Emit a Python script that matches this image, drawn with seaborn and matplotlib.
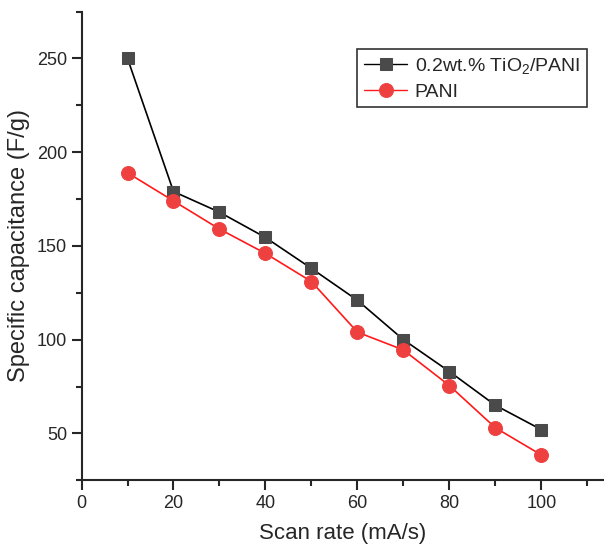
import matplotlib
matplotlib.use("Agg")
import matplotlib.pyplot as plt
import seaborn as sns
import pandas as pd
from matplotlib.ticker import MultipleLocator

scan_rate = [10, 20, 30, 40, 50, 60, 70, 80, 90, 100]
tio2_pani = [250, 179, 168, 154.5, 138, 121, 100, 83, 65, 52]
pani = [189, 174, 159, 146, 131, 104, 94.5, 75.5, 53, 38.5]
series_names = ["0.2wt.% TiO$_2$/PANI", "PANI"]

sns.set_style("ticks")
plt.rcParams['font.family'] = ['Liberation Sans', 'DejaVu Sans']
plt.rcParams['mathtext.fontset'] = 'custom'
plt.rcParams['mathtext.rm'] = 'Liberation Sans'
plt.rcParams['mathtext.it'] = 'Liberation Sans'

df = pd.DataFrame({
    "x": scan_rate * 2,
    "y": tio2_pani + pani,
    "s": [series_names[0]] * len(scan_rate) + [series_names[1]] * len(scan_rate),
})

fig = plt.figure(figsize=(6.04, 5.52), dpi=100)
ax = fig.add_axes([0.135, 0.130, 0.864, 0.849])

sns.lineplot(data=df[df.s == series_names[0]], x="x", y="y", ax=ax, color="black",
             marker="s", markersize=9, markerfacecolor="#4a4a4a", markeredgecolor="#4a4a4a",
             linewidth=1.2, label=series_names[0])
sns.lineplot(data=df[df.s == series_names[1]], x="x", y="y", ax=ax, color="#ff1a1a",
             marker="o", markersize=10, markerfacecolor="#ef4040", markeredgecolor="#ef4040",
             linewidth=1.2, label=series_names[1])

ax.set_xlim(0, 113.5)
ax.set_ylim(25, 275)
ax.xaxis.set_major_locator(MultipleLocator(20))
ax.xaxis.set_minor_locator(MultipleLocator(10))
ax.yaxis.set_major_locator(MultipleLocator(50))
ax.yaxis.set_minor_locator(MultipleLocator(25))
ax.tick_params(which="major", length=7, width=1.5, labelsize=13, direction="out")
ax.tick_params(which="minor", length=4, width=1.5, direction="out")
for side in ["top", "right"]:
    ax.spines[side].set_visible(False)
for side in ["left", "bottom"]:
    ax.spines[side].set_linewidth(1.5)

ax.set_xlabel("Scan rate (mA/s)", fontsize=16, labelpad=8)
ax.set_ylabel("Specific capacitance (F/g)", fontsize=17, labelpad=5)

leg = ax.legend(loc="upper left", bbox_to_anchor=(0.51, 0.94), fontsize=14,
                frameon=True, fancybox=False, edgecolor="black", handlelength=2.2,
                borderpad=0.35, labelspacing=0.35, handletextpad=0.4)
leg.get_frame().set_linewidth(1.2)
for line in leg.get_lines():
    line.set_linewidth(1.0)

fig.savefig("out.png", dpi=100)
